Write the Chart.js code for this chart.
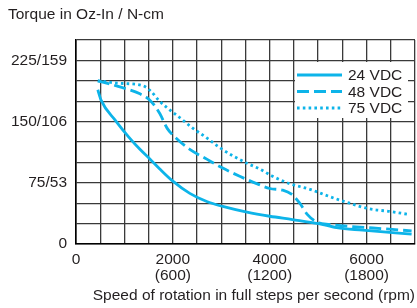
<!DOCTYPE html>
<html>
<head>
<meta charset="utf-8">
<script src="https://cdn.jsdelivr.net/npm/chart.js@4"></script>
<style>
  html, body { margin: 0; padding: 0; background: #fff; }
  #wrap { width: 417px; height: 308px; }
</style>
</head>
<body>
<div id="wrap"><canvas id="torqueChart" width="417" height="308"></canvas></div>
<script>
// speed in full steps per second, torque in oz-in
const speed24 = [450, 520, 820, 1090, 1320, 1530, 1730, 2000, 2350, 2700, 3030, 3530, 4000, 4470, 5010, 5380, 5920, 6930];
const torque24 = [189, 176, 151, 131, 116, 104, 92, 77, 62, 52, 46, 39, 34, 30, 25, 20, 17, 12];

const speed48 = [450, 820, 1320, 1530, 1730, 1880, 2080, 2350, 2700, 3030, 3380, 3730, 4000, 4270, 4450, 4620, 4780, 4970, 5240, 5790, 6410, 6930];
const torque48 = [200, 194, 184, 176, 160, 142, 129, 116, 104, 93, 83, 74, 68, 66, 61, 50, 36, 27, 24, 21, 18.5, 16];

const speed75 = [450, 890, 1380, 1550, 1710, 1880, 2140, 2410, 2700, 2970, 3240, 3530, 3790, 4060, 4410, 4830, 5240, 5650, 6060, 6470, 6890];
const torque75 = [200, 197, 194, 187, 176, 167, 155, 142, 130, 118, 108, 99, 92, 83, 74, 67, 58, 50, 43, 40, 36];

const seriesLabels = ["24 VDC", "48 VDC", "75 VDC"];

const xTickValues = [0, 2000, 4000, 6000];
const xTickLabels = [["0"], ["2000", "(600)"], ["4000", "(1200)"], ["6000", "(1800)"]];
const yTickValues = [0, 75, 150, 225];
const yTickLabels = ["0", "75/53", "150/106", "225/159"];

const CYAN = "#0db4e9";
const TEXT = "#231f20";
const FONT_SIZE = 15.5;

Chart.defaults.font.family = "'Liberation Sans', Arial, sans-serif";
Chart.defaults.font.size = FONT_SIZE;
Chart.defaults.color = TEXT;

const toPoints = (xs, ys) => xs.map((x, i) => ({ x, y: ys[i] }));

// legend drawn inside the plot, top right
const insideLegend = {
  id: "insideLegend",
  afterDraw(chart) {
    const { ctx, chartArea } = chart;
    const boxL = chartArea.right - 120;
    const boxT = chartArea.top + 22;
    ctx.save();
    ctx.fillStyle = "#fff";
    ctx.fillRect(boxL, boxT, 113, 56);
    ctx.font = FONT_SIZE + "px 'Liberation Sans', Arial, sans-serif";
    ctx.textBaseline = "middle";
    chart.data.datasets.forEach((ds, i) => {
      const y = boxT + 13 + i * 16.5;
      ctx.strokeStyle = ds.borderColor;
      ctx.lineWidth = ds.borderWidth;
      ctx.setLineDash(ds.borderDash || []);
      ctx.beginPath();
      ctx.moveTo(boxL + 2, y);
      ctx.lineTo(boxL + 47, y);
      ctx.stroke();
      ctx.setLineDash([]);
      ctx.fillStyle = TEXT;
      ctx.fillText(ds.label, boxL + 53, y + 1);
    });
    ctx.restore();
  },
};

const ctx = document.getElementById("torqueChart").getContext("2d");
new Chart(ctx, {
  type: "line",
  data: {
    datasets: [
      {
        label: seriesLabels[0],
        data: toPoints(speed24, torque24),
        borderColor: CYAN,
        borderWidth: 2.8,
      },
      {
        label: seriesLabels[1],
        data: toPoints(speed48, torque48),
        borderColor: CYAN,
        borderWidth: 2.8,
        borderDash: [12, 5],
      },
      {
        label: seriesLabels[2],
        data: toPoints(speed75, torque75),
        borderColor: CYAN,
        borderWidth: 2.8,
        borderDash: [2.6, 3.2],
      },
    ],
  },
  options: {
    responsive: false,
    animation: false,
    devicePixelRatio: 1,
    layout: { padding: { left: 8, right: 2, top: 0, bottom: 0 } },
    elements: {
      point: { radius: 0 },
      line: { cubicInterpolationMode: "monotone", borderCapStyle: "butt" },
    },
    plugins: {
      legend: { display: false },
      tooltip: { enabled: false },
      title: {
        display: true,
        text: "Torque in Oz-In / N-cm",
        align: "start",
        color: TEXT,
        font: { size: FONT_SIZE, weight: "normal" },
        padding: { top: 5, bottom: 16.4 },
      },
    },
    scales: {
      x: {
        type: "linear",
        min: 0,
        max: 7000,
        afterFit: (scale) => {
          scale.height = 64;
          scale.paddingLeft = 0;
          scale.paddingRight = 0;
        },
        ticks: {
          stepSize: 500,
          autoSkip: false,
          maxRotation: 0,
          padding: 8,
          font: { size: FONT_SIZE, lineHeight: 1.0 },
          callback: (v) => {
            const i = xTickValues.indexOf(v);
            return i >= 0 ? xTickLabels[i] : "";
          },
        },
        grid: { color: "#3a3a3a", lineWidth: 1.3, drawTicks: false },
        border: { color: "#000", width: 1.6 },
        title: {
          display: true,
          text: "Speed of rotation in full steps per second (rpm)",
          align: "end",
          font: { size: FONT_SIZE },
          padding: { top: 2, bottom: 3 },
        },
      },
      y: {
        min: 0,
        max: 250,
        afterFit: (scale) => {
          scale.width = 68;
          scale.paddingTop = 0;
          scale.paddingBottom = 0;
        },
        ticks: {
          stepSize: 25,
          autoSkip: false,
          padding: 9,
          font: { size: FONT_SIZE },
          callback: (v) => {
            const i = yTickValues.indexOf(v);
            return i >= 0 ? yTickLabels[i] : "";
          },
        },
        grid: { color: "#3a3a3a", lineWidth: 1.3, drawTicks: false },
        border: { color: "#000", width: 1.6 },
      },
    },
  },
  plugins: [insideLegend],
});
</script>
</body>
</html>
